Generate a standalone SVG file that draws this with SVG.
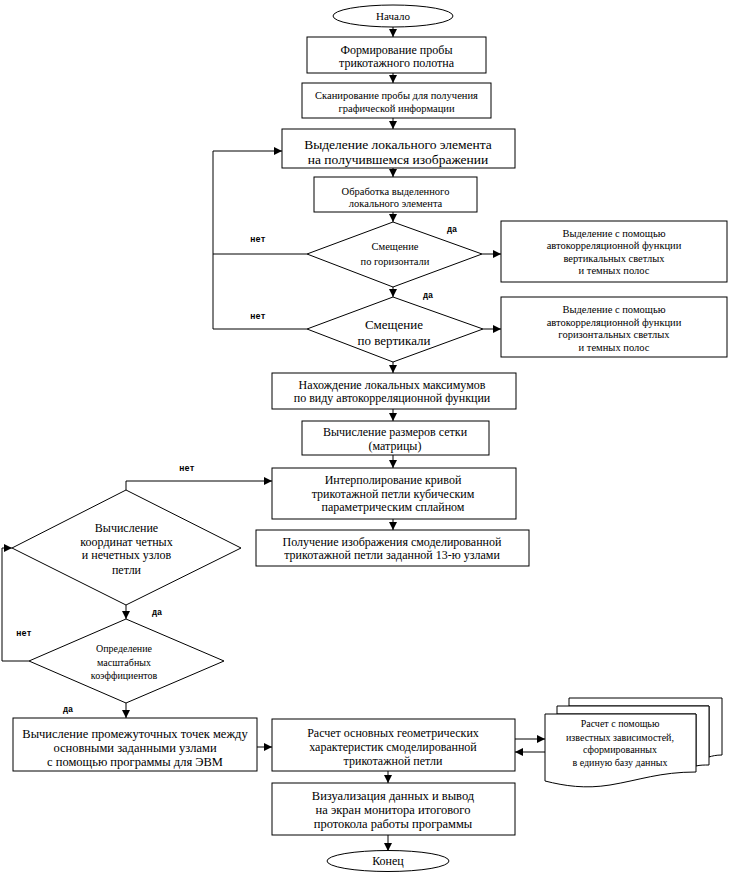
<svg xmlns="http://www.w3.org/2000/svg" width="730" height="879" viewBox="0 0 730 879">
<style>
.s{fill:#fff;stroke:#000;stroke-width:1}
.c{fill:none;stroke:#000;stroke-width:1}
text{font-family:"Liberation Serif","DejaVu Serif Condensed","DejaVu Serif",serif;fill:#000;text-anchor:middle}
.f12{font-size:12px}
.f13{font-size:13.5px}
.f10{font-size:10.5px}
.f9{font-size:10px}
.lb{font-family:"Liberation Mono","DejaVu Sans Mono",monospace;font-size:8.5px;font-weight:bold}
</style>
<defs>
<marker id="a" markerWidth="8" markerHeight="8" refX="8" refY="4" orient="auto" markerUnits="userSpaceOnUse">
<path d="M0,0 L8,4 L0,8 Z" fill="#000"/>
</marker>
</defs>
<rect width="730" height="879" fill="#fff"/>
<g id="connectors">
<path class="c" d="M393,27 V37" marker-end="url(#a)"/>
<path class="c" d="M393,73 V83" marker-end="url(#a)"/>
<path class="c" d="M393,118 V129" marker-end="url(#a)"/>
<path class="c" d="M393,168 V177" marker-end="url(#a)"/>
<path class="c" d="M393,212 V222" marker-end="url(#a)"/>
<path class="c" d="M482,254 H501" marker-end="url(#a)"/>
<path class="c" d="M393,287 V297" marker-end="url(#a)"/>
<path class="c" d="M483,329 H501" marker-end="url(#a)"/>
<path class="c" d="M307,254 H213"/>
<path class="c" d="M307,329 H213 V151 H282" marker-end="url(#a)"/>
<path class="c" d="M393,362 V373" marker-end="url(#a)"/>
<path class="c" d="M393,409 V421" marker-end="url(#a)"/>
<path class="c" d="M393,455 V468" marker-end="url(#a)"/>
<path class="c" d="M393,519 V530" marker-end="url(#a)"/>
<path class="c" d="M126,490 V481 H272" marker-end="url(#a)"/>
<path class="c" d="M126,605 V619" marker-end="url(#a)"/>
<path class="c" d="M29,661 H2 V548 H12" marker-end="url(#a)"/>
<path class="c" d="M126,703 V718" marker-end="url(#a)"/>
<path class="c" d="M257,747 H272" marker-end="url(#a)"/>
<path class="c" d="M515,739 H545" marker-end="url(#a)"/>
<path class="c" d="M545,752 H515" marker-end="url(#a)"/>
<path class="c" d="M388,771 V783" marker-end="url(#a)"/>
<path class="c" d="M388,835 V851" marker-end="url(#a)"/>
<text class="lb" x="258" y="242">нет</text>
<text class="lb" x="258" y="319">нет</text>
<text class="lb" x="452" y="232">да</text>
<text class="lb" x="428" y="298">да</text>
<text class="lb" x="187" y="471">нет</text>
<text class="lb" x="157" y="615">да</text>
<text class="lb" x="24" y="636">нет</text>
<text class="lb" x="68" y="712">да</text>
</g>
<g id="start">
<ellipse class="s" cx="393" cy="16" rx="60" ry="11"/>
<text class="f12" x="393" y="20" style="font-size:11px">Начало</text>
</g>
<g id="n1">
<rect class="s" x="307" y="37" width="179" height="36"/>
<text class="f12" x="396.5" y="54">Формирование пробы</text>
<text class="f12" x="396.5" y="67">трикотажного полотна</text>
</g>
<g id="n2">
<rect class="s" x="302" y="83" width="189" height="35"/>
<text class="f10" x="396.5" y="99">Сканирование пробы для получения</text>
<text class="f10" x="396.5" y="112">графической информации</text>
</g>
<g id="n3">
<rect class="s" x="282" y="129" width="233" height="39"/>
<text class="f13" x="398" y="149">Выделение локального элемента</text>
<text class="f13" x="398" y="164">на получившемся изображении</text>
</g>
<g id="n4">
<rect class="s" x="314" y="177" width="163" height="35"/>
<text class="f10" x="395.5" y="195">Обработка выделенного</text>
<text class="f10" x="395.5" y="207">локального элемента</text>
</g>
<g id="d1">
<polygon class="s" points="393,222 482,254 393,287 307,254"/>
<text class="f10" x="395" y="250">Смещение</text>
<text class="f10" x="395" y="265">по горизонтали</text>
</g>
<g id="r1">
<rect class="s" x="501" y="221" width="226" height="61"/>
<text class="f10" x="614" y="236.5">Выделение с помощью</text>
<text class="f10" x="614" y="249">автокорреляционной функции</text>
<text class="f10" x="614" y="261.5">вертикальных светлых</text>
<text class="f10" x="614" y="274">и темных полос</text>
</g>
<g id="d2">
<polygon class="s" points="393,297 483,329 393,362 307,329"/>
<text class="f13" x="394" y="328.5" style="font-size:13px">Смещение</text>
<text class="f13" x="394" y="344.5" style="font-size:13px">по вертикали</text>
</g>
<g id="r2">
<rect class="s" x="501" y="297" width="226" height="60"/>
<text class="f10" x="614" y="313">Выделение с помощью</text>
<text class="f10" x="614" y="325.5">автокорреляционной функции</text>
<text class="f10" x="614" y="338">горизонтальных  светлых</text>
<text class="f10" x="614" y="350.5">и темных полос</text>
</g>
<g id="n5">
<rect class="s" x="272" y="373" width="244" height="36"/>
<text class="f12" x="392" y="389">Нахождение локальных максимумов</text>
<text class="f12" x="392" y="402">по виду автокорреляционной функции</text>
</g>
<g id="n6">
<rect class="s" x="302" y="421" width="187" height="34"/>
<text class="f12" x="395" y="436">Вычисление размеров сетки</text>
<text class="f12" x="395" y="450">(матрицы)</text>
</g>
<g id="n7">
<rect class="s" x="272" y="468" width="244" height="51"/>
<text class="f12" x="393" y="484">Интерполирование кривой</text>
<text class="f12" x="393" y="498">трикотажной петли кубическим</text>
<text class="f12" x="393" y="511">параметрическим сплайном</text>
</g>
<g id="n8">
<rect class="s" x="256" y="530" width="273" height="36"/>
<text class="f12" x="392" y="546">Получение изображения смоделированной</text>
<text class="f12" x="392" y="559">трикотажной петли заданной 13-ю узлами</text>
</g>
<g id="d3">
<polygon class="s" points="126,490 241,548 126,605 12,548"/>
<text class="f12" x="126.5" y="532">Вычисление</text>
<text class="f12" x="126.5" y="546">координат четных</text>
<text class="f12" x="126.5" y="559">и нечетных узлов</text>
<text class="f12" x="126.5" y="574">петли</text>
</g>
<g id="d4">
<polygon class="s" points="126,619 224,661 126,703 29,661"/>
<text class="f9" x="124" y="651.5">Определение</text>
<text class="f9" x="124" y="665.5">масштабных</text>
<text class="f9" x="124" y="678.5">коэффициентов</text>
</g>
<g id="n9">
<rect class="s" x="13" y="718" width="244" height="53"/>
<text class="f12" x="135" y="738" style="font-size:12.5px">Вычисление промежуточных точек между</text>
<text class="f12" x="135" y="752" style="font-size:12.5px">основными заданными узлами</text>
<text class="f12" x="135" y="766" style="font-size:12.5px">с помощью программы для ЭВМ</text>
</g>
<g id="n10">
<rect class="s" x="272" y="719" width="243" height="52"/>
<text class="f12" x="393" y="737">Расчет основных геометрических</text>
<text class="f12" x="393" y="751">характеристик смоделированной</text>
<text class="f12" x="393" y="765">трикотажной петли</text>
</g>
<g id="doc">
<path class="s" d="M569,698 H722 V755 C716,755 712,756 709,757 V706 H569 Z"/>
<path class="s" d="M557,706 H709 V765 C704,765 700,765 696,766 V714 H557 Z"/>
<path class="s" d="M545,714 H696 V772 C660,772 640,780 610,785 C585,789 565,786 545,781 Z"/>
<text class="f9" x="620" y="726.5">Расчет с помощью</text>
<text class="f9" x="620" y="740.5">известных зависимостей,</text>
<text class="f9" x="620" y="752.5">сформированных</text>
<text class="f9" x="620" y="765.5">в единую базу данных</text>
</g>
<g id="n11">
<rect class="s" x="272" y="783" width="243" height="52"/>
<text class="f12" x="393" y="799.5" style="font-size:12.5px">Визуализация данных и вывод</text>
<text class="f12" x="393" y="813.5" style="font-size:12.5px">на экран монитора итогового</text>
<text class="f12" x="393" y="827.5" style="font-size:12.5px">протокола работы программы</text>
</g>
<g id="end">
<ellipse class="s" cx="388" cy="861" rx="61" ry="10.5"/>
<text class="f12" x="388" y="865">Конец</text>
</g>
</svg>
